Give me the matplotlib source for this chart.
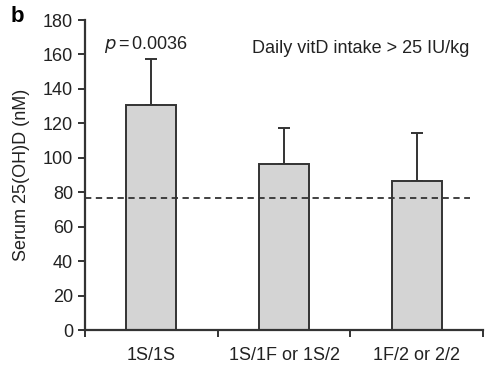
import matplotlib
matplotlib.use('Agg')
import matplotlib.pyplot as plt

plt.rcParams['font.family'] = ['Liberation Sans', 'DejaVu Sans']

# data
groups = ['1S/1S', '1S/1F or 1S/2', '1F/2 or 2/2']
means = [130.6, 96.4, 86.7]
err_up = [26.7, 20.7, 27.5]
ref_line = 76.6

dark = '#333333'
fig = plt.figure(figsize=(5.04, 3.72), dpi=100)
ax = fig.add_axes([0.1687, 0.1129, 0.7897, 0.8333])

x = [1, 2, 3]
ax.bar(x, means, width=0.375, color='#d4d4d4', edgecolor=dark, linewidth=1.4, zorder=2)
ax.errorbar(x, means, yerr=[[0, 0, 0], err_up], fmt='none', ecolor=dark,
            elinewidth=1.4, capsize=4, capthick=1.4, zorder=1)
ax.plot([0.5, 3.4], [ref_line, ref_line], ls=(0, (3.5, 2.5)), color=dark, lw=1.3, zorder=3)

ax.set_xlim(0.5, 3.5)
ax.set_ylim(0, 180)
ax.set_yticks(range(0, 181, 20))
ax.set_xticks(x)
ax.set_xticklabels(groups)
ax.set_xticks([0.5, 1.5, 2.5, 3.5], minor=True)
ax.tick_params(axis='x', which='major', length=0, pad=12, labelsize=13, colors='#222222')
ax.tick_params(axis='x', which='minor', length=5, width=1.4, color=dark)
ax.tick_params(axis='y', length=5, width=1.4, color=dark, labelsize=13, labelcolor='#222222')
for s in ['top', 'right']:
    ax.spines[s].set_visible(False)
for s in ['left', 'bottom']:
    ax.spines[s].set_color(dark)
    ax.spines[s].set_linewidth(1.6)

ax.set_ylabel('Serum 25(OH)D (nM)', fontsize=13, color='#222222', labelpad=9)
ax.text(0.96, 165.5, r'$p$$\,$=$\,$0.0036', ha='center', va='center', fontsize=13, color='#222222')
ax.text(2.575, 163.5, 'Daily vitD intake > 25 IU/kg', ha='center', va='center', fontsize=13, color='#222222')
fig.text(0.02, 0.955, 'b', fontsize=16, fontweight='bold', ha='left', va='center')

fig.savefig('out.png', dpi=100)
